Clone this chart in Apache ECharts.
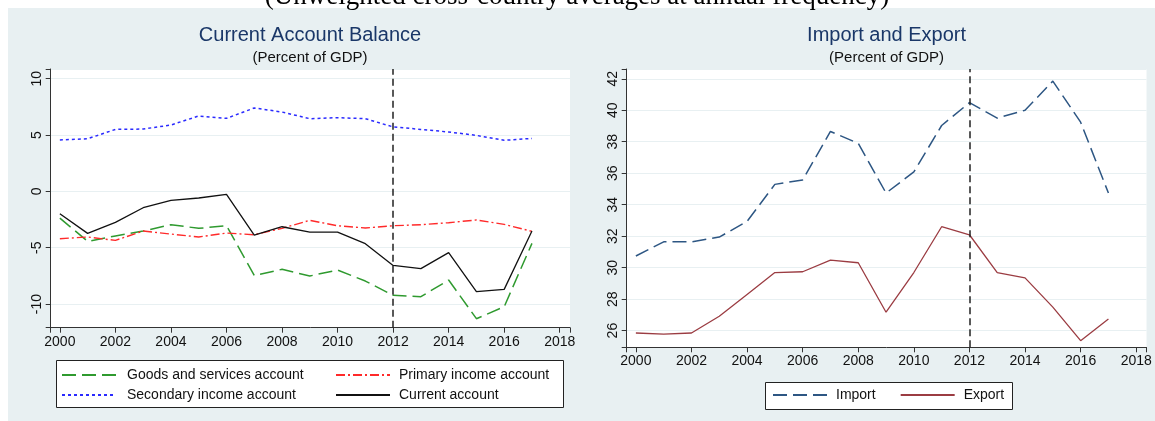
<!DOCTYPE html>
<html><head><meta charset="utf-8">
<script src="https://cdn.jsdelivr.net/npm/echarts@6/dist/echarts.min.js"></script>
<style>html,body{margin:0;padding:0;background:#fff}#c{width:1155px;height:421px}</style>
</head><body><div id="c"></div>
<script>
const years = [2000,2001,2002,2003,2004,2005,2006,2007,2008,2009,2010,2011,2012,2013,2014,2015,2016,2017];
const goodsServices = [-2.37,-4.44,-3.96,-3.52,-2.96,-3.28,-3.05,-7.46,-6.92,-7.51,-6.98,-7.96,-9.23,-9.35,-7.87,-11.3,-10.24,-4.62];
const primaryIncome = [-4.2,-4.05,-4.35,-3.52,-3.79,-4.05,-3.7,-3.85,-3.28,-2.57,-3.05,-3.25,-3.05,-2.96,-2.78,-2.54,-2.93,-3.55];
const secondaryIncome = [4.56,4.67,5.5,5.53,5.89,6.69,6.48,7.4,7.04,6.45,6.54,6.45,5.72,5.5,5.27,4.97,4.53,4.7];
const currentAccount = [-1.98,-3.73,-2.75,-1.45,-0.8,-0.59,-0.27,-3.88,-3.14,-3.61,-3.61,-4.64,-6.57,-6.86,-5.44,-8.9,-8.7,-3.52];
const importShare = [30.74,31.64,31.64,31.94,32.94,35.29,35.57,38.65,37.9,34.74,36.08,39.03,40.48,39.5,40.0,41.85,39.24,34.74];
const exportShare = [25.85,25.78,25.85,26.91,28.3,29.69,29.74,30.48,30.31,27.17,29.69,32.6,32.09,29.69,29.35,27.49,25.36,26.74];
const breakYear = 2012;
const mainTitle = '(Unweighted cross-country averages at annual frequency)';
const leftTitle = 'Current Account Balance';
const rightTitle = 'Import and Export';
const subTitle = '(Percent of GDP)';

const FONT = '"Liberation Sans", Arial, sans-serif';
const BG = '#e8f0f2';
const pairs = arr => years.map((y, i) => [y, arr[i]]);
const isMult = (v, m) => Math.abs(v / m - Math.round(v / m)) < 1e-6;

function xAxisCfg(g) {
  return {
    type: 'value', gridIndex: g, min: 1999.67, max: 2018.37, splitNumber: 9,
    axisLine: { show: true, onZero: false, lineStyle: { color: '#333', width: 1 } },
    axisTick: { show: true, length: 5, lineStyle: { color: '#333' } },
    splitLine: { show: false },
    axisLabel: { fontFamily: FONT, fontSize: 14, color: '#111', margin: 7,
      formatter: v => isMult(v, 2) ? String(Math.round(v)) : '' }
  };
}
function yAxisCfg(g, min, max, split, step) {
  return {
    type: 'value', gridIndex: g, min: min, max: max, splitNumber: split,
    axisLine: { show: true, onZero: false, lineStyle: { color: '#333', width: 1 } },
    axisTick: { show: true, length: 5, lineStyle: { color: '#333' } },
    splitLine: { show: true, lineStyle: { color: BG, width: 1.2 } },
    axisLabel: { fontFamily: FONT, fontSize: 14, color: '#111', margin: 7, rotate: 90,
      formatter: v => isMult(v, step) ? String(Math.round(v)) : '' }
  };
}
function vline() {
  return { silent: true, symbol: 'none', label: { show: false },
    lineStyle: { color: '#222', type: [7, 4], width: 1.5 },
    data: [{ xAxis: breakYear }] };
}
function lineSeries(name, data, xi, color, type, width, withMark) {
  const s = { name, type: 'line', xAxisIndex: xi, yAxisIndex: xi, data: pairs(data),
    symbol: 'none', showSymbol: false, animation: false,
    lineStyle: { color, type, width }, itemStyle: { color } };
  if (withMark) s.markLine = vline();
  return s;
}

const chart = echarts.init(document.getElementById('c'));
const hiddenSymbol = { color: 'rgba(0,0,0,0)', borderWidth: 0, opacity: 0 };
function legendCfg(extra, pad) {
  return Object.assign({ padding: 0, itemWidth: 54, itemHeight: 14, selectedMode: false,
    itemStyle: hiddenSymbol,
    textStyle: { fontFamily: FONT, fontSize: 14, color: '#111', padding: [0, 0, 0, pad] } }, extra);
}
chart.setOption({
  backgroundColor: BG,
  animation: false,
  grid: [
    { left: 50.7, top: 69, width: 519.3, height: 258.7, show: true, backgroundColor: '#fff', borderWidth: 0 },
    { left: 626.7, top: 69, width: 519.8, height: 278.3, show: true, backgroundColor: '#fff', borderWidth: 0 }
  ],
  xAxis: [xAxisCfg(0), xAxisCfg(1)],
  yAxis: [yAxisCfg(0, -12.1, 10.86, 5, 5), yAxisCfg(1, 24.94, 42.62, 8, 2)],
  legend: [
    legendCfg({ orient: 'vertical', left: 61, top: 368, itemGap: 6,
      data: ['Goods and services account', 'Secondary income account'] }, 6),
    legendCfg({ orient: 'vertical', left: 335, top: 368, itemGap: 6,
      data: ['Primary income account', 'Current account'] }, 4),
    legendCfg({ orient: 'horizontal', left: 772, top: 388, itemGap: 24,
      data: ['Import', 'Export'] }, 4)
  ],
  graphic: [
    { type: 'rect', shape: { x: 0, y: 0, width: 1155, height: 8 }, style: { fill: '#fff' }, silent: true },
    { type: 'rect', shape: { x: 0, y: 0, width: 8, height: 421 }, style: { fill: '#fff' }, silent: true },
    { type: 'text', x: 577, y: -3, style: { text: mainTitle, font: '27px "Liberation Serif", "Times New Roman", serif', fill: '#000', textAlign: 'center', textVerticalAlign: 'middle' }, silent: true },
    { type: 'text', x: 310, y: 35, style: { text: leftTitle, font: '20px ' + FONT, fill: '#1a3768', textAlign: 'center', textVerticalAlign: 'middle' }, silent: true },
    { type: 'text', x: 310, y: 58, style: { text: subTitle, font: '15px ' + FONT, fill: '#111', textAlign: 'center', textVerticalAlign: 'middle' }, silent: true },
    { type: 'text', x: 886.6, y: 35, style: { text: rightTitle, font: '20px ' + FONT, fill: '#1a3768', textAlign: 'center', textVerticalAlign: 'middle' }, silent: true },
    { type: 'text', x: 886.6, y: 58, style: { text: subTitle, font: '15px ' + FONT, fill: '#111', textAlign: 'center', textVerticalAlign: 'middle' }, silent: true },
    { type: 'rect', shape: { x: 56.5, y: 360.5, width: 507, height: 47 }, style: { fill: '#fff', stroke: '#222', lineWidth: 1 }, silent: true },
    { type: 'rect', shape: { x: 765.5, y: 382.5, width: 247, height: 27 }, style: { fill: '#fff', stroke: '#222', lineWidth: 1 }, silent: true }
  ],
  series: [
    lineSeries('Goods and services account', goodsServices, 0, '#2f9a2f', [14, 6], 1.5, true),
    lineSeries('Primary income account', primaryIncome, 0, '#ff2a2a', [9, 3, 2, 3], 1.4, false),
    lineSeries('Secondary income account', secondaryIncome, 0, '#2a2aff', [3, 3], 1.5, false),
    lineSeries('Current account', currentAccount, 0, '#111111', 'solid', 1.3, false),
    lineSeries('Import', importShare, 1, '#2d5683', [14, 6], 1.5, true),
    lineSeries('Export', exportShare, 1, '#9b3c42', 'solid', 1.3, false)
  ]
});
</script></body></html>
